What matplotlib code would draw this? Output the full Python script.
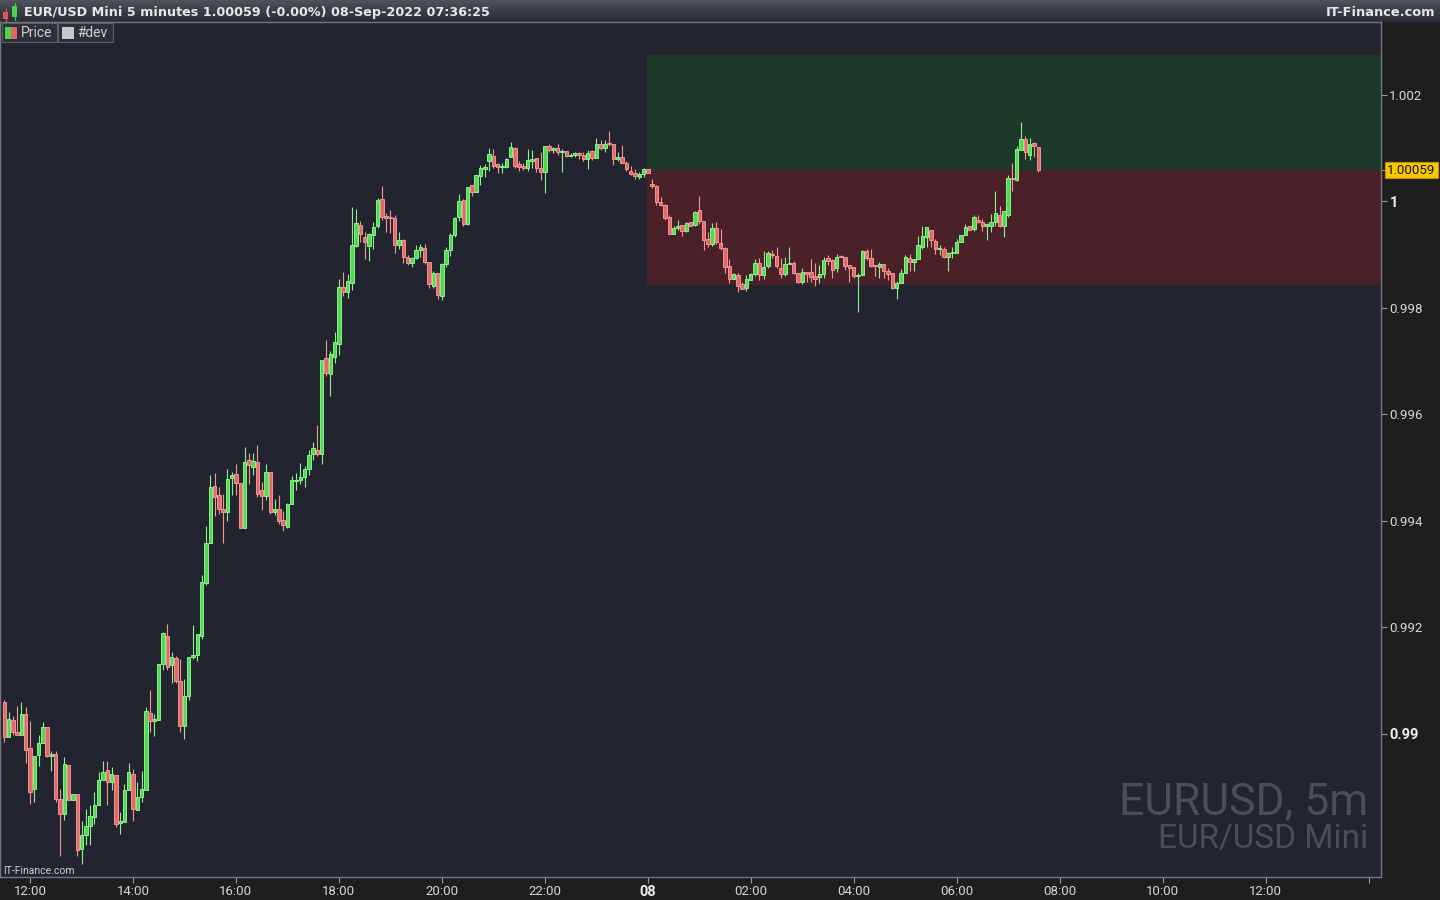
import numpy as np
import matplotlib
matplotlib.use("Agg")
import matplotlib.pyplot as plt
from matplotlib.patches import Rectangle
from matplotlib.colors import LinearSegmentedColormap
from matplotlib.transforms import blended_transform_factory

# EUR/USD Mini, 5 minute candles, 07-Sep-2022 11:30 -> 08-Sep-2022 07:35
# prices given in pips above 0.9900
base_price = 0.9900
start_hour = 11.5          # first candle, hours after 07-Sep 00:00
bar_minutes = 5

opens = [
    5.9, -0.6, 2.6, 0.3, -0.25, 3.7, -2.75, -10.4, -3.9, -1.75,
    1.25, -4.2, -3.8, -12.25, -15.1, -5.9, -12.4, -11.3, -21.7, -19.0,
    -17.3, -15.6, -13.4, -8.7, -6.8, -9.0, -7.75, -16.75, -16.6, -10.5,
    -7.6, -14.3, -11.9, -10.5, 3.9, 2.4, 2.6, 13.1, 18.3, 12.9,
    14.2, 10.0, 1.4, 7.1, 14.4, 14.8, 18.4, 28.3, 35.9, 46.5,
    44.8, 42.2, 41.75, 48.1, 48.75, 47.1, 38.6, 51.4, 50.2, 51.0,
    45.75, 44.7, 49.1, 41.6, 42.2, 40.1, 38.9, 43.1, 47.4, 47.6,
    48.2, 49.75, 52.5, 53.4, 52.5, 70.5, 67.6, 70.8, 73.3, 83.9,
    82.9, 84.75, 91.6, 95.5, 93.4, 91.7, 93.6, 95.3, 100.4, 97.2,
    97.0, 96.8, 91.9, 92.7, 89.5, 88.4, 89.3, 90.8, 91.2, 88.6,
    84.1, 86.6, 82.2, 88.3, 90.8, 93.6, 97.0, 100.2, 95.8, 103.0,
    101.8, 104.7, 106.0, 107.5, 108.5, 107.0, 106.4, 106.5, 108.4, 110.0,
    107.0, 106.7, 106.2, 107.6, 108.1, 106.2, 105.6, 110.4, 109.7, 110.0,
    109.2, 109.4, 108.5, 108.7, 109.0, 108.8, 108.0, 109.4, 108.2, 110.7,
    110.0, 111.0, 110.7, 108.0, 108.4, 107.3, 105.8, 105.4, 104.6, 105.1,
    106.0, 103.2, 102.9, 99.8, 99.3, 97.0, 93.8, 95.0, 95.5, 94.5,
    96.1, 95.5, 98.3, 96.4, 92.9, 92.0, 95.0, 92.1, 91.3, 87.8,
    85.5, 86.2, 84.4, 83.8, 85.3, 86.3, 88.4, 86.2, 87.8, 90.2,
    89.8, 87.5, 86.4, 88.2, 88.4, 86.6, 84.8, 86.8, 86.7, 85.9,
    85.8, 86.4, 89.3, 89.0, 87.4, 89.8, 89.5, 88.0, 87.6, 85.9,
    86.1, 90.6, 89.3, 88.0, 87.7, 88.3, 87.0, 86.6, 83.8, 84.7,
    86.5, 89.3, 88.7, 89.1, 91.5, 93.3, 94.7, 92.5, 91.1, 91.1,
    89.6, 90.3, 90.3, 92.4, 93.6, 95.3, 94.8, 96.5, 96.2, 95.3,
    95.4, 96.1, 97.5, 95.3, 97.5, 104.4, 104.1, 109.6, 111.7, 108.8,
    111.0, 110.2,
]
highs = [
    6.4, 4.1, 3.4, 5.25, 5.9, 5.0, 2.4, -4.2, -0.25, 2.2,
    1.25, -3.3, -3.2, -10.3, -4.4, -5.9, -11.3, -11.3, -16.3, -14.1,
    -13.4, -10.9, -7.2, -5.1, -5.1, -6.25, -7.75, -14.6, -9.4, -5.5,
    -6.6, -9.0, -6.9, 5.0, 8.25, 3.75, 13.1, 19.1, 20.6, 15.4,
    14.6, 14.1, 10.25, 14.4, 20.4, 18.7, 29.8, 39.0, 48.6, 49.0,
    46.4, 45.0, 49.8, 49.2, 50.7, 47.1, 53.8, 52.8, 52.8, 54.3,
    47.3, 50.7, 49.1, 44.1, 44.8, 41.9, 43.3, 48.4, 49.0, 50.9,
    50.3, 53.3, 54.75, 58.0, 70.3, 74.0, 71.9, 75.4, 85.4, 86.8,
    86.4, 98.9, 98.6, 96.3, 94.3, 94.1, 96.1, 100.6, 102.9, 97.9,
    98.3, 97.4, 94.2, 93.0, 90.0, 89.6, 91.8, 92.0, 92.0, 88.6,
    86.9, 86.6, 88.5, 91.5, 94.1, 97.0, 101.4, 100.5, 102.8, 103.0,
    104.9, 106.9, 107.1, 110.0, 109.9, 107.2, 107.2, 108.1, 111.2, 110.2,
    107.5, 107.3, 109.9, 109.7, 108.2, 109.3, 110.4, 110.7, 110.2, 110.7,
    109.8, 109.5, 109.0, 109.2, 109.2, 109.2, 109.6, 109.6, 111.9, 111.5,
    111.5, 113.2, 110.7, 109.2, 110.6, 107.5, 106.6, 106.0, 105.6, 106.3,
    106.0, 104.2, 103.1, 100.8, 99.5, 97.4, 95.3, 96.5, 95.5, 96.2,
    96.1, 98.2, 101.0, 96.4, 94.2, 95.9, 96.1, 94.9, 91.4, 89.2,
    86.6, 86.6, 84.9, 86.1, 86.6, 89.2, 89.3, 90.6, 90.6, 90.8,
    91.4, 89.3, 89.6, 91.4, 88.8, 86.6, 87.5, 86.8, 89.1, 88.5,
    88.0, 89.6, 90.0, 89.2, 90.2, 90.0, 89.5, 88.0, 87.6, 86.6,
    90.9, 91.0, 91.0, 88.0, 88.6, 88.3, 87.4, 86.6, 85.0, 87.3,
    90.0, 90.1, 89.1, 93.5, 95.4, 95.1, 94.7, 92.9, 91.8, 91.5,
    90.5, 91.4, 92.9, 93.6, 95.7, 95.3, 97.5, 97.4, 96.7, 95.9,
    97.6, 101.9, 99.2, 98.2, 105.0, 107.2, 110.4, 114.9, 112.3, 112.0,
    111.2, 110.2,
]
lows = [
    -1.6, -0.6, -0.2, -0.2, -0.25, -5.4, -13.25, -12.8, -6.1, -1.75,
    -4.4, -6.9, -12.8, -23.0, -16.25, -12.4, -12.4, -23.0, -24.5, -20.9,
    -20.9, -17.0, -13.4, -8.7, -13.4, -10.5, -17.6, -18.8, -16.6, -10.5,
    -16.4, -14.3, -12.9, -10.5, 0.4, -0.5, 2.6, 12.0, 12.0, 9.6,
    9.5, 0.25, -0.9, 6.4, 14.1, 13.6, 17.8, 28.0, 35.9, 40.9,
    41.3, 35.9, 40.0, 44.9, 44.9, 38.6, 38.6, 47.0, 48.6, 44.4,
    42.1, 43.9, 41.25, 41.1, 39.4, 38.0, 38.6, 43.1, 45.7, 47.0,
    46.3, 48.6, 51.4, 52.25, 50.7, 67.2, 63.5, 69.7, 71.1, 82.2,
    81.8, 83.4, 91.4, 92.4, 89.2, 88.9, 91.0, 95.0, 96.5, 94.2,
    94.0, 90.4, 91.1, 88.5, 88.1, 87.6, 89.1, 89.6, 88.2, 83.7,
    83.7, 81.6, 81.4, 87.7, 89.8, 93.3, 96.3, 95.3, 95.5, 101.0,
    101.8, 103.0, 104.5, 105.8, 106.2, 105.4, 105.4, 106.2, 108.4, 106.2,
    105.7, 105.9, 105.8, 106.2, 105.6, 104.1, 101.5, 109.2, 109.0, 108.8,
    105.5, 108.4, 108.3, 108.4, 108.0, 107.6, 106.0, 107.8, 108.2, 109.7,
    109.3, 110.4, 106.9, 107.5, 107.3, 105.8, 105.0, 104.3, 104.3, 104.5,
    105.4, 102.6, 99.4, 99.2, 96.5, 93.8, 93.8, 94.6, 93.5, 94.3,
    95.3, 95.3, 95.7, 90.8, 91.4, 91.6, 92.0, 90.9, 86.6, 84.7,
    85.4, 82.9, 83.5, 83.2, 85.2, 85.9, 85.3, 85.4, 87.4, 89.3,
    87.4, 85.6, 85.9, 88.2, 86.3, 84.6, 84.5, 84.8, 84.8, 84.1,
    84.6, 85.6, 88.1, 85.7, 86.7, 89.5, 87.2, 84.9, 85.6, 79.3,
    86.1, 89.0, 87.7, 85.9, 85.6, 85.6, 85.3, 83.6, 81.6, 84.7,
    86.5, 86.9, 87.0, 89.1, 91.1, 91.5, 91.5, 90.1, 89.9, 89.4,
    87.0, 89.4, 90.3, 92.4, 93.6, 94.7, 94.5, 96.0, 94.5, 92.7,
    94.3, 95.3, 95.1, 93.4, 97.0, 102.0, 103.9, 109.6, 108.0, 107.8,
    108.4, 105.5,
]
closes = [
    -0.6, 2.75, 0.25, -0.2, 3.7, -3.1, -10.9, -4.2, -1.75, 1.25,
    -4.1, -3.75, -12.25, -15.1, -5.6, -12.4, -11.3, -21.8, -19.0, -17.3,
    -15.4, -13.4, -8.7, -7.1, -9.0, -7.6, -16.9, -16.4, -10.6, -7.2,
    -14.2, -11.9, -10.4, 4.2, 2.4, 2.75, 13.1, 18.9, 12.6, 14.4,
    10.0, 1.4, 7.1, 14.4, 14.8, 18.7, 28.5, 35.9, 46.3, 44.4,
    42.2, 41.75, 47.8, 48.6, 47.1, 38.6, 51.1, 50.4, 51.2, 45.0,
    44.7, 49.1, 41.6, 42.2, 39.9, 39.2, 43.1, 47.6, 47.6, 48.2,
    49.75, 52.4, 53.6, 52.6, 70.3, 67.8, 71.3, 73.5, 83.9, 82.9,
    85.0, 91.9, 95.9, 93.8, 92.3, 93.8, 95.1, 100.2, 97.0, 96.8,
    96.8, 91.8, 92.7, 89.5, 88.4, 89.3, 90.8, 91.4, 88.7, 84.4,
    86.6, 82.4, 88.2, 90.8, 93.6, 96.8, 100.0, 95.7, 102.8, 101.8,
    104.9, 106.2, 106.5, 108.9, 106.7, 106.4, 106.7, 108.0, 110.2, 106.7,
    106.5, 106.2, 107.7, 107.9, 106.2, 105.6, 110.4, 109.6, 110.0, 109.2,
    109.5, 108.5, 108.7, 109.0, 108.8, 108.0, 109.0, 108.2, 110.7, 110.0,
    110.8, 110.7, 108.0, 108.4, 107.3, 106.0, 105.2, 104.8, 105.2, 106.0,
    105.4, 102.9, 99.8, 99.4, 96.9, 93.8, 95.0, 95.4, 94.4, 95.9,
    95.3, 98.0, 96.4, 92.7, 92.0, 95.0, 92.3, 91.2, 87.7, 85.5,
    86.3, 84.2, 83.6, 85.4, 86.3, 88.4, 86.2, 87.6, 90.3, 90.0,
    87.8, 86.3, 88.2, 88.4, 86.6, 84.8, 86.8, 86.4, 85.8, 85.4,
    86.4, 89.0, 88.9, 87.2, 89.6, 89.5, 87.8, 87.5, 85.9, 86.1,
    90.6, 89.3, 87.8, 87.8, 88.3, 87.0, 86.4, 83.8, 84.7, 86.5,
    89.5, 88.7, 89.1, 91.9, 93.5, 95.1, 92.8, 91.1, 91.3, 89.6,
    90.3, 90.5, 92.3, 93.6, 95.2, 94.7, 97.1, 96.2, 95.4, 95.8,
    96.1, 97.9, 95.3, 98.2, 104.4, 104.2, 109.9, 111.7, 109.2, 110.8,
    110.4, 105.9,
]

# session box drawn from midnight: range split at the last price
zone_high = 1.00275
zone_low = 0.99843
zone_start_hour = 24.0

last_price_text = "1.00059"

y_ticks = [0.990, 0.992, 0.994, 0.996, 0.998, 1.000, 1.002]
y_tick_labels = ["0.99", "0.992", "0.994", "0.996", "0.998", "1", "1.002"]
x_tick_hours = [12, 14, 16, 18, 20, 22, 24, 26, 28, 30, 32, 34, 36, 38]
x_tick_labels = ["12:00", "14:00", "16:00", "18:00", "20:00", "22:00", "08",
                 "02:00", "04:00", "06:00", "08:00", "10:00", "12:00", ""]

title_text = "EUR/USD Mini 5 minutes 1.00059 (-0.00%) 08-Sep-2022 07:36:25"

# ---------------------------------------------------------------------------
W, H = 1440, 900
BG = "#22252f"
PANEL = "#1e1e1e"
GRID_LINE = "#74777e"
TXT = "#d6d6d6"


def fx(x):
    return x / W


def fy(y):
    return 1 - y / H


def px_rect(x0, y0, x1, y1):
    return [x0 / W, 1 - y1 / H, (x1 - x0) / W, (y1 - y0) / H]


def hour_to_idx(h):
    return (h - start_hour) * 60 / bar_minutes


o = base_price + np.array(opens) / 1e4
hi = base_price + np.array(highs) / 1e4
lo = base_price + np.array(lows) / 1e4
c = base_price + np.array(closes) / 1e4
x = np.arange(len(c))
up = c >= o

fig = plt.figure(figsize=(W / 100, H / 100), dpi=100, facecolor=PANEL)

# title bar
tax = fig.add_axes(px_rect(0, 0, W, 22))
grad = np.linspace(0, 1, 50).reshape(-1, 1)
cmap = LinearSegmentedColormap.from_list("bar", ["#50535b", "#3a3d45", "#2b2e35"])
tax.imshow(grad, aspect="auto", cmap=cmap, extent=[0, 1, 0, 1])
tax.set_axis_off()
fig.text(fx(24), fy(12.5), title_text, color="#e8e8e8", fontsize=9.2,
         fontweight="bold", va="center", ha="left", family="DejaVu Sans")
fig.text(fx(1435), fy(12.5), "IT-Finance.com", color="#e8e8e8", fontsize=9.4,
         fontweight="bold", va="center", ha="right", family="DejaVu Sans")
# small logo candles
for x0, y0, y1, wy0, wy1, col in [(3, 12, 19, 9, 21, "#e05a5a"),
                                  (12, 6, 17, 3, 20, "#4cd24c")]:
    fig.add_artist(plt.Line2D([fx(x0 + 2.5)] * 2, [fy(wy0), fy(wy1)],
                              color=col, lw=0.8, transform=fig.transFigure))
    fig.add_artist(Rectangle((fx(x0), fy(y1)), 5 / W, (y1 - y0) / H,
                             transform=fig.transFigure, facecolor=col,
                             edgecolor="none"))

# main price panel
ax = fig.add_axes(px_rect(0, 22, 1381, 877))
ax.set_facecolor(BG)
x_left = -1.0
x_right = 320.9
ax.set_xlim(x_left, x_right)
ax.set_ylim(0.98731, 1.00337)

zx0 = hour_to_idx(zone_start_hour) - 0.2
ax.fill_between([zx0, x_right], c[-1], zone_high, color="#1c3828", lw=0, zorder=0)
ax.fill_between([zx0, x_right], zone_low, c[-1], color="#4a2029", lw=0, zorder=0)

fill_up, edge_up = "#52d852", "#8cf28c"
fill_dn, edge_dn = "#e06a6a", "#f49494"
body_bot = np.minimum(o, c)
body_h = np.maximum(np.abs(c - o), 0.000012)
ax.vlines(x[up], lo[up], hi[up], color=edge_up, lw=0.8, zorder=2)
ax.vlines(x[~up], lo[~up], hi[~up], color=edge_dn, lw=0.8, zorder=2)
ax.bar(x[up], body_h[up], bottom=body_bot[up], width=0.8, color=fill_up,
       edgecolor=edge_up, linewidth=0.7, zorder=3)
ax.bar(x[~up], body_h[~up], bottom=body_bot[~up], width=0.8, color=fill_dn,
       edgecolor=edge_dn, linewidth=0.7, zorder=3)

for side in ["top", "right", "bottom", "left"]:
    ax.spines[side].set_color(GRID_LINE)
    ax.spines[side].set_linewidth(1.0)

ax.yaxis.tick_right()
ax.set_yticks(y_ticks)
ax.set_yticklabels(y_tick_labels)
ax.set_xticks([hour_to_idx(h) for h in x_tick_hours])
ax.set_xticklabels(x_tick_labels)
ax.tick_params(axis="y", direction="out", length=4, width=0.8, color="#9a9a9a",
               labelcolor=TXT, labelsize=9.5, pad=2)
ax.tick_params(axis="x", direction="out", length=4, width=0.8, color="#9a9a9a",
               labelcolor=TXT, labelsize=9.5, pad=2)
for lab in ax.get_yticklabels() + ax.get_xticklabels():
    lab.set_family("Roboto")
for lab in ax.get_yticklabels():
    if lab.get_text() in ("1", "0.99"):
        lab.set_fontweight("bold")
        lab.set_fontsize(10.5)
        lab.set_color("#f0f0f0")
for lab in ax.get_xticklabels():
    if lab.get_text() == "08":
        lab.set_fontweight("bold")
        lab.set_fontsize(10.5)
        lab.set_color("#f0f0f0")

# last price label
tr = blended_transform_factory(ax.transAxes, ax.transData)
ax.plot([1.0, 1.003], [c[-1], c[-1]], color="#9a9a9a", lw=0.8, transform=tr,
        clip_on=False)
ax.text(1.0045, c[-1], last_price_text, transform=tr, ha="left", va="center",
        fontsize=9.5, family="Roboto", color="#111111", clip_on=False,
        bbox=dict(boxstyle="square,pad=0.15", facecolor="#f8c800",
                  edgecolor="#b89400", linewidth=0.8))

# legend boxes
for x0, x1, label, icon in [(2, 57, "Price", "price"), (58, 113, "#dev", "dev")]:
    fig.add_artist(Rectangle((fx(x0), fy(42)), (x1 - x0) / W, 19 / H,
                             transform=fig.transFigure, facecolor="#2c3039",
                             edgecolor="#5c5f66", lw=0.8))
    if icon == "price":
        fig.add_artist(Rectangle((fx(5), fy(39)), 6 / W, 12 / H,
                                 transform=fig.transFigure, facecolor="#4cd24c",
                                 edgecolor="none"))
        fig.add_artist(Rectangle((fx(11), fy(39)), 6 / W, 12 / H,
                                 transform=fig.transFigure, facecolor="#e06666",
                                 edgecolor="none"))
    else:
        fig.add_artist(Rectangle((fx(62), fy(39)), 12 / W, 12 / H,
                                 transform=fig.transFigure, facecolor="#c8c8c8",
                                 edgecolor="none"))
    fig.text(fx(x0 + 19), fy(33), label, color="#d0d0d0", fontsize=10,
             va="center", ha="left", family="Roboto")

# watermark
fig.text(fx(1368), fy(815), "EURUSD, 5m", color="#4a4e57", fontsize=32,
         ha="right", va="baseline", family="Roboto")
fig.text(fx(1368), fy(848), "EUR/USD Mini", color="#4a4e57", fontsize=24,
         ha="right", va="baseline", family="Roboto")
fig.text(fx(3), fy(871), "IT-Finance.com", color="#d0d0d0", fontsize=7.5,
         ha="left", va="center", family="Roboto")

fig.savefig("out.png", dpi=100, facecolor=PANEL)
